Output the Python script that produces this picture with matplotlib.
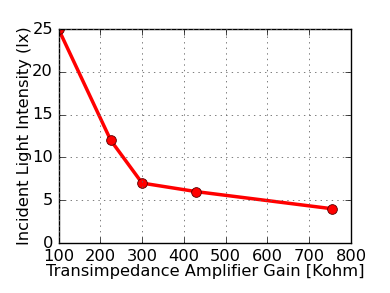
import matplotlib
matplotlib.use("Agg")
import matplotlib.pyplot as plt

plt.style.use('classic')

gain = [100, 225, 300, 430, 755]
intensity = [25, 12, 7, 6, 4]

fig = plt.figure(figsize=(3.9, 2.93), dpi=100)
ax = fig.add_axes([58.5/390, 1-243/293, (351-58.5)/390, (243-29)/293])
ax.plot(gain, intensity, color='red', lw=2.5, marker='o', markersize=7,
        markerfacecolor='red', markeredgecolor='#550000', markeredgewidth=0.6)
ax.set_xlim(100, 800)
ax.set_ylim(0, 25)
ax.set_xticks(range(100, 801, 100))
ax.set_yticks(range(0, 26, 5))
ax.grid(True, color='#666666', linestyle=':', linewidth=0.6)
ax.tick_params(labelsize=11.7)
ax.set_xlabel('Transimpedance Amplifier Gain [Kohm]', fontsize=11.7, labelpad=0)
ax.set_ylabel('Incident Light Intensity (lx)', fontsize=11.7, labelpad=0)
fig.savefig('out.png', dpi=100)
